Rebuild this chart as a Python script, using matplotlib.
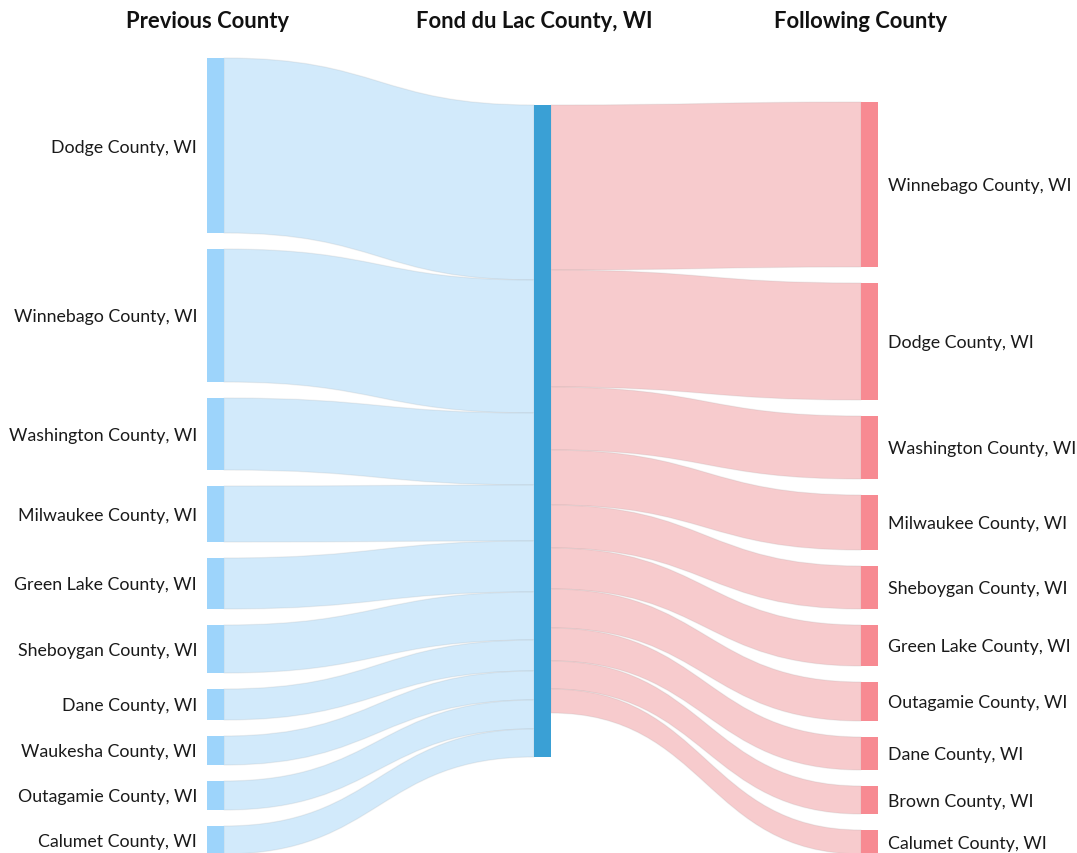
import matplotlib
matplotlib.use("Agg")
import matplotlib.pyplot as plt
from matplotlib.path import Path
from matplotlib.patches import PathPatch, Rectangle

plt.rcParams['font.family'] = ['Lato', 'DejaVu Sans']

# ---- data ----
center_name = "Fond du Lac County, WI"
headers = ["Previous County", "Fond du Lac County, WI", "Following County"]
prev_counties = ["Dodge County, WI", "Winnebago County, WI", "Washington County, WI",
                 "Milwaukee County, WI", "Green Lake County, WI", "Sheboygan County, WI",
                 "Dane County, WI", "Waukesha County, WI", "Outagamie County, WI",
                 "Calumet County, WI"]
prev_values = [175, 133, 72, 56, 51, 48, 31, 29, 29, 28]
next_counties = ["Winnebago County, WI", "Dodge County, WI", "Washington County, WI",
                 "Milwaukee County, WI", "Sheboygan County, WI", "Green Lake County, WI",
                 "Outagamie County, WI", "Dane County, WI", "Brown County, WI",
                 "Calumet County, WI"]
next_values = [165, 117, 63, 55, 43, 41, 39, 33, 28, 24]

# ---- layout / style ----
W, H = 1077, 854
node_w = 17
col_x = [207, 534, 861]
gap = 16
bottom = 855
center_top = 106
c_left_node = '#9dd4fb'
c_left_flow = '#d2eafb'
c_center = '#3aa0d5'
c_right_node = '#f78a92'
c_right_flow = '#f7cbcd'
edge = (0.6, 0.6, 0.6, 0.15)

fig = plt.figure(figsize=(W / 100, H / 100), dpi=100)
ax = fig.add_axes([0, 0, 1, 1])
ax.set_xlim(0, W)
ax.set_ylim(H, 0)
ax.axis('off')


def column_positions(values):
    total = sum(values) + gap * (len(values) - 1)
    y = bottom - total
    pos = []
    for v in values:
        pos.append((y, y + v))
        y += v + gap
    return pos


def ribbon(x0, y0t, y0b, x1, y1t, y1b, color):
    xm = (x0 + x1) / 2
    verts = [(x0, y0t), (xm, y0t), (xm, y1t), (x1, y1t),
             (x1, y1b),
             (xm, y1b), (xm, y0b), (x0, y0b),
             (x0, y0t)]
    codes = [Path.MOVETO, Path.CURVE4, Path.CURVE4, Path.CURVE4,
             Path.LINETO,
             Path.CURVE4, Path.CURVE4, Path.CURVE4,
             Path.CLOSEPOLY]
    ax.add_patch(PathPatch(Path(verts, codes), facecolor=color, edgecolor=edge,
                           lw=0.9, zorder=1))


left_pos = column_positions(prev_values)
right_pos = column_positions(next_values)
center_h = max(sum(prev_values), sum(next_values))

# left flows
yc = center_top
for (t, b), v in zip(left_pos, prev_values):
    ribbon(col_x[0] + node_w, t, b, col_x[1], yc, yc + v, c_left_flow)
    yc += v
# right flows
yc = center_top
for (t, b), v in zip(right_pos, next_values):
    ribbon(col_x[1] + node_w, yc, yc + v, col_x[2], t, b, c_right_flow)
    yc += v

# nodes
for (t, b), name in zip(left_pos, prev_counties):
    ax.add_patch(Rectangle((col_x[0], t), node_w, b - t, facecolor=c_left_node,
                           edgecolor='none', zorder=2))
    ax.text(col_x[0] - 10, (t + b) / 2 + 1, name, ha='right', va='center',
            fontsize=12.8, color='#1a1a1a')
ax.add_patch(Rectangle((col_x[1], center_top), node_w, center_h, facecolor=c_center,
                       edgecolor='none', zorder=2))
for (t, b), name in zip(right_pos, next_counties):
    ax.add_patch(Rectangle((col_x[2], t), node_w, b - t, facecolor=c_right_node,
                           edgecolor='none', zorder=2))
    ax.text(col_x[2] + node_w + 10, (t + b) / 2 + 1, name, ha='left', va='center',
            fontsize=12.8, color='#1a1a1a')

# headers
for x, h in zip(col_x, headers):
    ax.text(x, 21, h, ha='center', va='center', fontsize=15.8, fontweight='bold',
            color='#111111')

fig.savefig('out.png', dpi=100)
